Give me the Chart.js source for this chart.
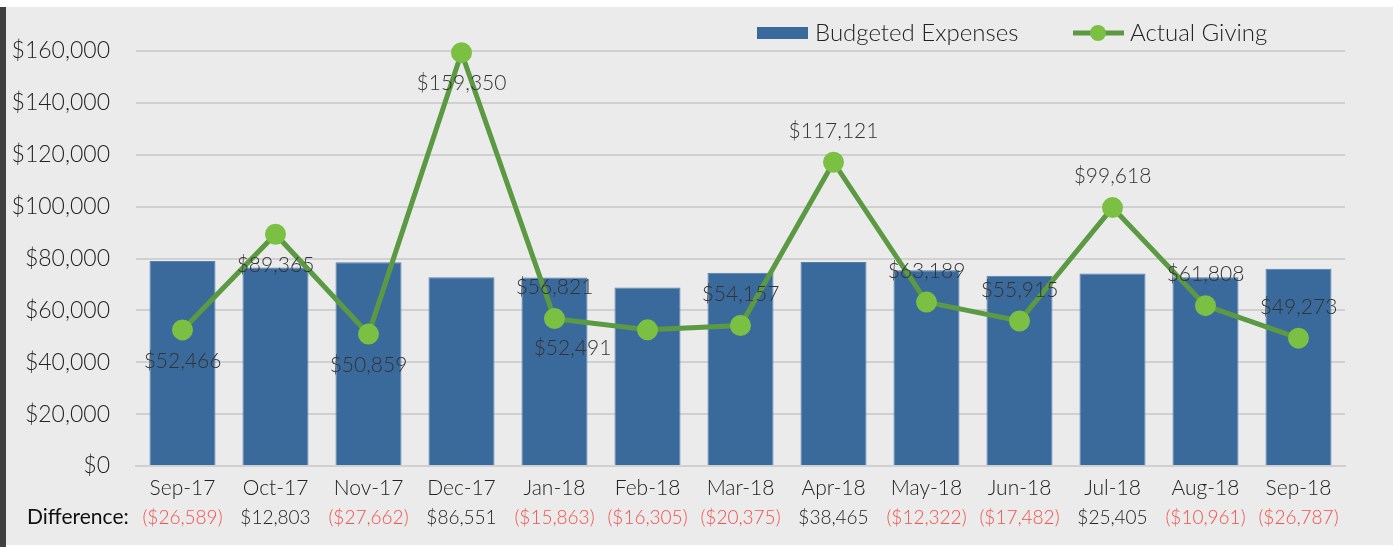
<!DOCTYPE html>
<html>
<head>
<meta charset="utf-8">
<script src="https://cdn.jsdelivr.net/npm/chart.js@4.4.0/dist/chart.umd.min.js"></script>
<style>
  html, body { margin: 0; padding: 0; background: #fff; }
  #wrap { position: relative; width: 1398px; height: 547px; }
</style>
</head>
<body>
<div id="wrap"><canvas id="chart" width="1398" height="547"></canvas></div>
<script>
// chart data
const months = ['Sep-17','Oct-17','Nov-17','Dec-17','Jan-18','Feb-18','Mar-18','Apr-18','May-18','Jun-18','Jul-18','Aug-18','Sep-18']
const budgeted = [79055, 76562, 78521, 72799, 72684, 68796, 74532, 78656, 75511, 73397, 74213, 72769, 76060]
const actual = [52466, 89365, 50859, 159350, 56821, 52491, 54157, 117121, 63189, 55915, 99618, 61808, 49273]
const difference = [-26589, 12803, -27662, 86551, -15863, -16305, -20375, 38465, -12322, -17482, 25405, -10961, -26787]
const yTicks = [0, 20000, 40000, 60000, 80000, 100000, 120000, 140000, 160000]

// where each actual-giving label sits (like the excel chart)
const labelPlace = ['below','below','below','below','above','lowleft','above','above','above','above','above','above','above']

const FONT = 'Lato, "Open Sans", sans-serif'
const BG = '#EBEBEB'

function money(v){
  const s = '$' + Math.abs(v).toLocaleString('en-US')
  return v < 0 ? '(' + s + ')' : s
}

const backdrop = {
  id: 'backdrop',
  beforeDraw(chart){
    const ctx = chart.ctx
    ctx.save()
    ctx.fillStyle = '#ffffff'
    ctx.fillRect(0, 0, chart.width, chart.height)
    ctx.fillStyle = BG
    ctx.fillRect(6, 7, 1387, 538)
    ctx.fillStyle = '#404040'
    ctx.fillRect(0, 7, 6, 540)
    ctx.restore()
  }
}

const extras = {
  id: 'extras',
  afterDatasetsDraw(chart){
    const ctx = chart.ctx
    const x = chart.scales.x
    const bars = chart.data.datasets[0]
    const line = chart.data.datasets[1]
    const meta = chart.getDatasetMeta(1)
    ctx.save()
    // point labels
    ctx.font = '300 21px ' + FONT
    ctx.fillStyle = '#333'
    ctx.textAlign = 'center'
    ctx.textBaseline = 'middle'
    meta.data.forEach((pt, i) => {
      let lx = pt.x, ly = pt.y
      if (labelPlace[i] === 'above') ly -= 31
      else if (labelPlace[i] === 'below') ly += 31
      else if (labelPlace[i] === 'lowleft') { lx -= 75; ly += 18 }
      ctx.fillText(money(actual[i]), lx, ly)
    })
    // difference row
    ctx.font = '21px ' + FONT
    ctx.fillStyle = '#111'
    ctx.textAlign = 'left'
    ctx.fillText('Difference:', 27, 517)
    ctx.font = '300 19px ' + FONT
    ctx.textAlign = 'center'
    difference.forEach((d, i) => {
      ctx.fillStyle = d < 0 ? '#F5504C' : '#222'
      ctx.fillText(money(d), x.getPixelForValue(i), 518)
    })
    // legend
    ctx.font = '300 24px ' + FONT
    ctx.textAlign = 'left'
    ctx.fillStyle = bars.backgroundColor
    ctx.fillRect(757, 27, 51, 12)
    ctx.fillStyle = '#222'
    ctx.fillText(bars.label, 815, 33)
    ctx.strokeStyle = line.borderColor
    ctx.lineWidth = 5
    ctx.beginPath(); ctx.moveTo(1073, 33); ctx.lineTo(1124, 33); ctx.stroke()
    ctx.fillStyle = line.pointBackgroundColor
    ctx.beginPath(); ctx.arc(1098, 33, 8, 0, Math.PI * 2); ctx.fill()
    ctx.fillStyle = '#222'
    ctx.fillText(line.label, 1130, 33)
    ctx.restore()
  }
}

new Chart(document.getElementById('chart'), {
  data: {
    labels: months,
    datasets: [
      {
        type: 'bar',
        label: 'Budgeted Expenses',
        data: budgeted,
        backgroundColor: '#3A6A9B',
        borderColor: '#5580AE',
        borderWidth: 1,
        categoryPercentage: 0.71,
        barPercentage: 1,
        order: 2
      },
      {
        type: 'line',
        label: 'Actual Giving',
        data: actual,
        borderColor: '#5B9A42',
        borderWidth: 5,
        pointBackgroundColor: '#7BC043',
        pointBorderColor: '#7BC043',
        pointRadius: 8,
        pointHoverRadius: 8,
        tension: 0,
        clip: false,
        order: 1
      }
    ]
  },
  options: {
    responsive: false,
    animation: false,
    layout: { padding: { top: 51, right: 53, left: 0, bottom: 0 } },
    plugins: { legend: { display: false }, tooltip: { enabled: false } },
    scales: {
      x: {
        grid: { display: false, drawTicks: false },
        border: { color: '#D0D0D0', width: 2 },
        ticks: { color: '#222', font: { family: FONT, size: 21, weight: '300' }, padding: 10, maxRotation: 0 },
        afterFit(s){ s.height = 81 }
      },
      y: {
        min: 0,
        max: 160000,
        afterBuildTicks(s){ s.ticks = yTicks.map(v => ({ value: v })) },
        grid: { color: '#D0D0D0', lineWidth: 2, drawTicks: false },
        border: { display: false },
        ticks: {
          color: '#222',
          font: { family: FONT, size: 23, weight: '300' },
          padding: 26,
          callback: v => '$' + v.toLocaleString('en-US')
        },
        afterFit(s){ s.width = 136 }
      }
    }
  },
  plugins: [backdrop, extras]
})
</script>
</body>
</html>
